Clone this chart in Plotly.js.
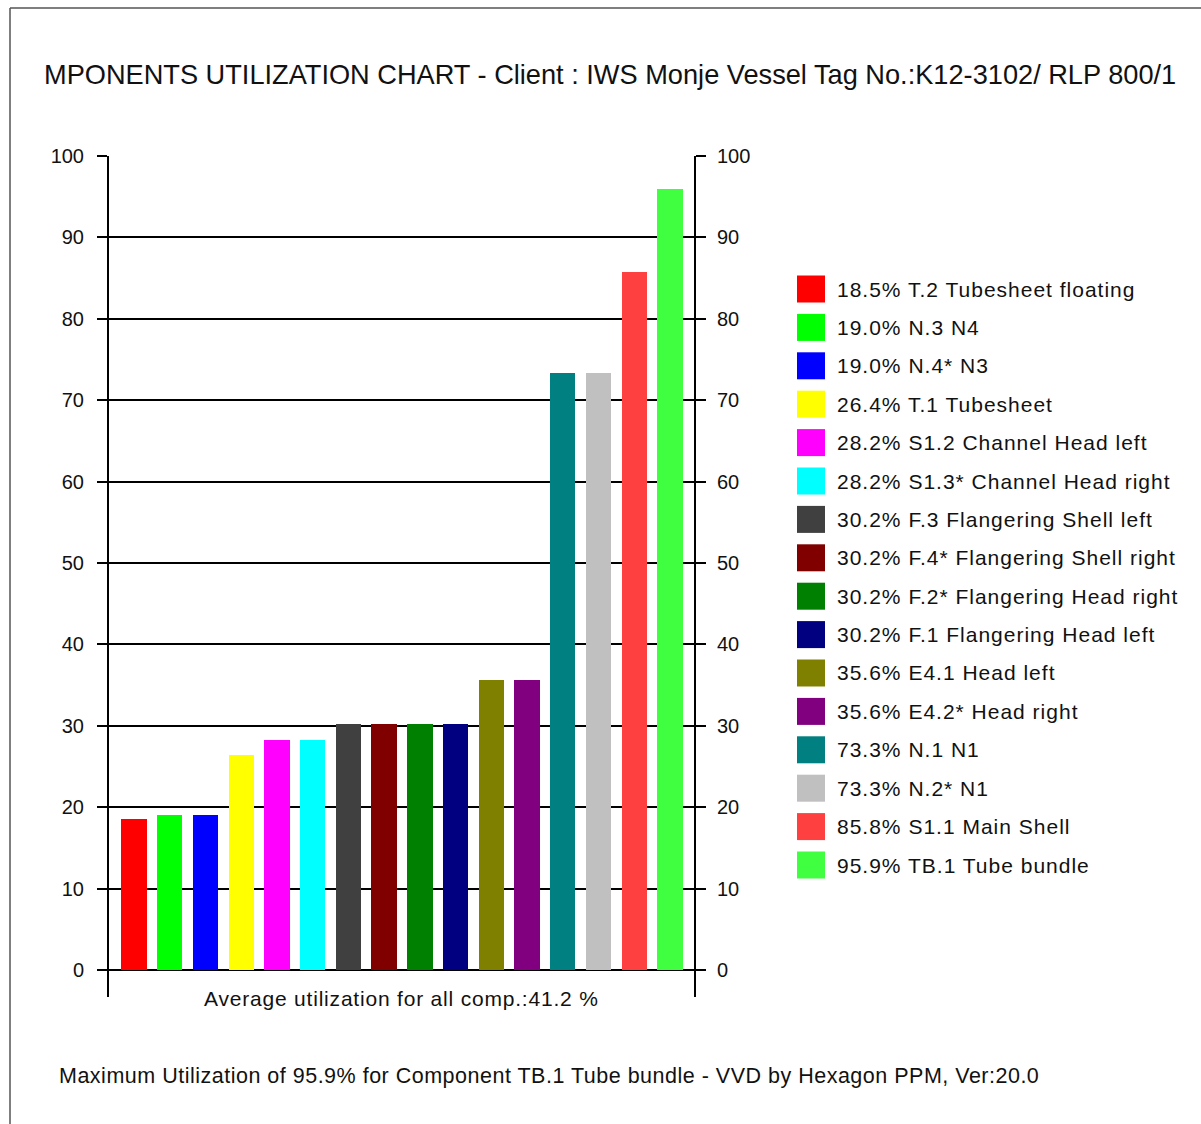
<!DOCTYPE html>
<html>
<head>
<meta charset="utf-8">
<script src="https://cdn.plot.ly/plotly-3.0.1.min.js"></script>
<style>
html,body{margin:0;padding:0;background:#fff;}
#chart{width:1201px;height:1124px;}
.annotation text{letter-spacing:1px;}
.annotation[data-index="16"] text{letter-spacing:0.8px;}
.annotation[data-index="17"] text{letter-spacing:0.5px;}
</style>
</head>
<body>
<div id="chart"></div>
<script>
// ---- data ----
const componentNames = [
  "T.2 Tubesheet floating", "N.3 N4", "N.4* N3", "T.1 Tubesheet",
  "S1.2 Channel Head left", "S1.3* Channel Head right", "F.3 Flangering Shell left",
  "F.4* Flangering Shell right", "F.2* Flangering Head right", "F.1 Flangering Head left",
  "E4.1 Head left", "E4.2* Head right", "N.1 N1", "N.2* N1", "S1.1 Main Shell", "TB.1 Tube bundle"
];
const utilization = [18.5, 19.0, 19.0, 26.4, 28.2, 28.2, 30.2, 30.2, 30.2, 30.2, 35.6, 35.6, 73.3, 73.3, 85.8, 95.9];
const barColors = ["#FF0000", "#00FF00", "#0000FF", "#FFFF00", "#FF00FF", "#00FFFF", "#404040",
  "#800000", "#008000", "#000080", "#808000", "#800080", "#008080", "#C0C0C0", "#FF4040", "#40FF40"];
const yTicks = [0, 10, 20, 30, 40, 50, 60, 70, 80, 90, 100];
const averageUtil = 41.2;
const titleText = "MPONENTS UTILIZATION CHART - Client : IWS Monje Vessel Tag No.:K12-3102/ RLP 800/1";
const footerText = "Maximum Utilization of 95.9% for Component TB.1 Tube bundle - VVD by Hexagon PPM, Ver:20.0";

// ---- layout geometry (pixels) ----
const W = 1201, H = 1124;
const L = 109, R = 694, T = 156, B = 997;
const pw = R - L, ph = B - T;
const px2x = p => (p - L) / pw;
const px2y = p => (B - p) / ph;

const FONT = "Liberation Sans, Arial, sans-serif";
const xIdx = componentNames.map((_, i) => i);

const traces = [{
  type: "bar",
  x: xIdx,
  y: utilization,
  marker: {color: barColors, line: {width: 0}},
  width: 0.71,
  showlegend: false,
  hoverinfo: "y"
}, {
  type: "scatter", x: [0], y: [0], yaxis: "y2", mode: "markers",
  marker: {opacity: 0}, showlegend: false, hoverinfo: "skip"
}];

const shapes = [];
const annotations = [];

// legend built from the data arrays
const legTop = 289, legStep = 38.4;
componentNames.forEach((n, i) => {
  const cy = legTop + i * legStep;
  shapes.push({
    type: "rect", xref: "paper", yref: "paper",
    x0: px2x(797), x1: px2x(825), y0: px2y(cy - 13.5), y1: px2y(cy + 13.5),
    fillcolor: barColors[i], line: {width: 0}
  });
  annotations.push({
    xref: "paper", yref: "paper", x: px2x(835), y: px2y(cy),
    xanchor: "left", yanchor: "middle", align: "left", showarrow: false,
    text: utilization[i].toFixed(1) + "% " + n,
    font: {family: FONT, size: 21, color: "#111"}
  });
});

// frame lines
shapes.push({type: "line", xref: "paper", yref: "paper", x0: px2x(10), x1: px2x(10), y0: px2y(8), y1: px2y(H + 5), line: {color: "#555", width: 1.5}});
shapes.push({type: "line", xref: "paper", yref: "paper", x0: px2x(10), x1: px2x(W + 5), y0: px2y(8), y1: px2y(8), line: {color: "#555", width: 1.5}});

annotations.push({
  xref: "paper", yref: "paper", x: px2x(401), y: px2y(998), xanchor: "center", yanchor: "middle",
  showarrow: false, text: "Average utilization for all comp.:" + averageUtil.toFixed(1) + " %",
  font: {family: FONT, size: 21, color: "#111"}
});
annotations.push({
  xref: "paper", yref: "paper", x: px2x(57), y: px2y(1076), xanchor: "left", yanchor: "middle",
  align: "left", showarrow: false, text: footerText,
  font: {family: FONT, size: 21.5, color: "#111"}
});

const yRange = [-27 / 8.14, 100];
const yAxisCommon = {
  range: yRange, tickmode: "array", tickvals: yTicks, ticktext: yTicks.map(String),
  ticks: "outside", ticklen: 10, tickwidth: 2, tickcolor: "#000",
  showline: true, linecolor: "#000", linewidth: 2, zeroline: false,
  tickfont: {family: FONT, size: 20, color: "#111"}, fixedrange: true
};

const layout = {
  width: W, height: H,
  margin: {l: L, r: W - R, t: T, b: H - B, pad: 0},
  paper_bgcolor: "#fff", plot_bgcolor: "#fff",
  title: {
    text: titleText, xref: "container", yref: "container",
    x: 44 / W, xanchor: "left", y: 1 - 74 / H, yanchor: "middle",
    font: {family: FONT, size: 27.2, color: "#111"}
  },
  xaxis: {range: [-0.70, 15.673], showticklabels: false, ticks: "", showgrid: false, zeroline: false, showline: false, fixedrange: true},
  yaxis: Object.assign({}, yAxisCommon, {showgrid: true, gridcolor: "#000", gridwidth: 2, ticklabelstandoff: 9}),
  yaxis2: Object.assign({}, yAxisCommon, {overlaying: "y", side: "right", showgrid: false, ticklabelstandoff: 7}),
  bargap: 0,
  showlegend: false,
  shapes: shapes,
  annotations: annotations
};

Plotly.newPlot("chart", traces, layout, {displayModeBar: false, staticPlot: true});
</script>
</body>
</html>
